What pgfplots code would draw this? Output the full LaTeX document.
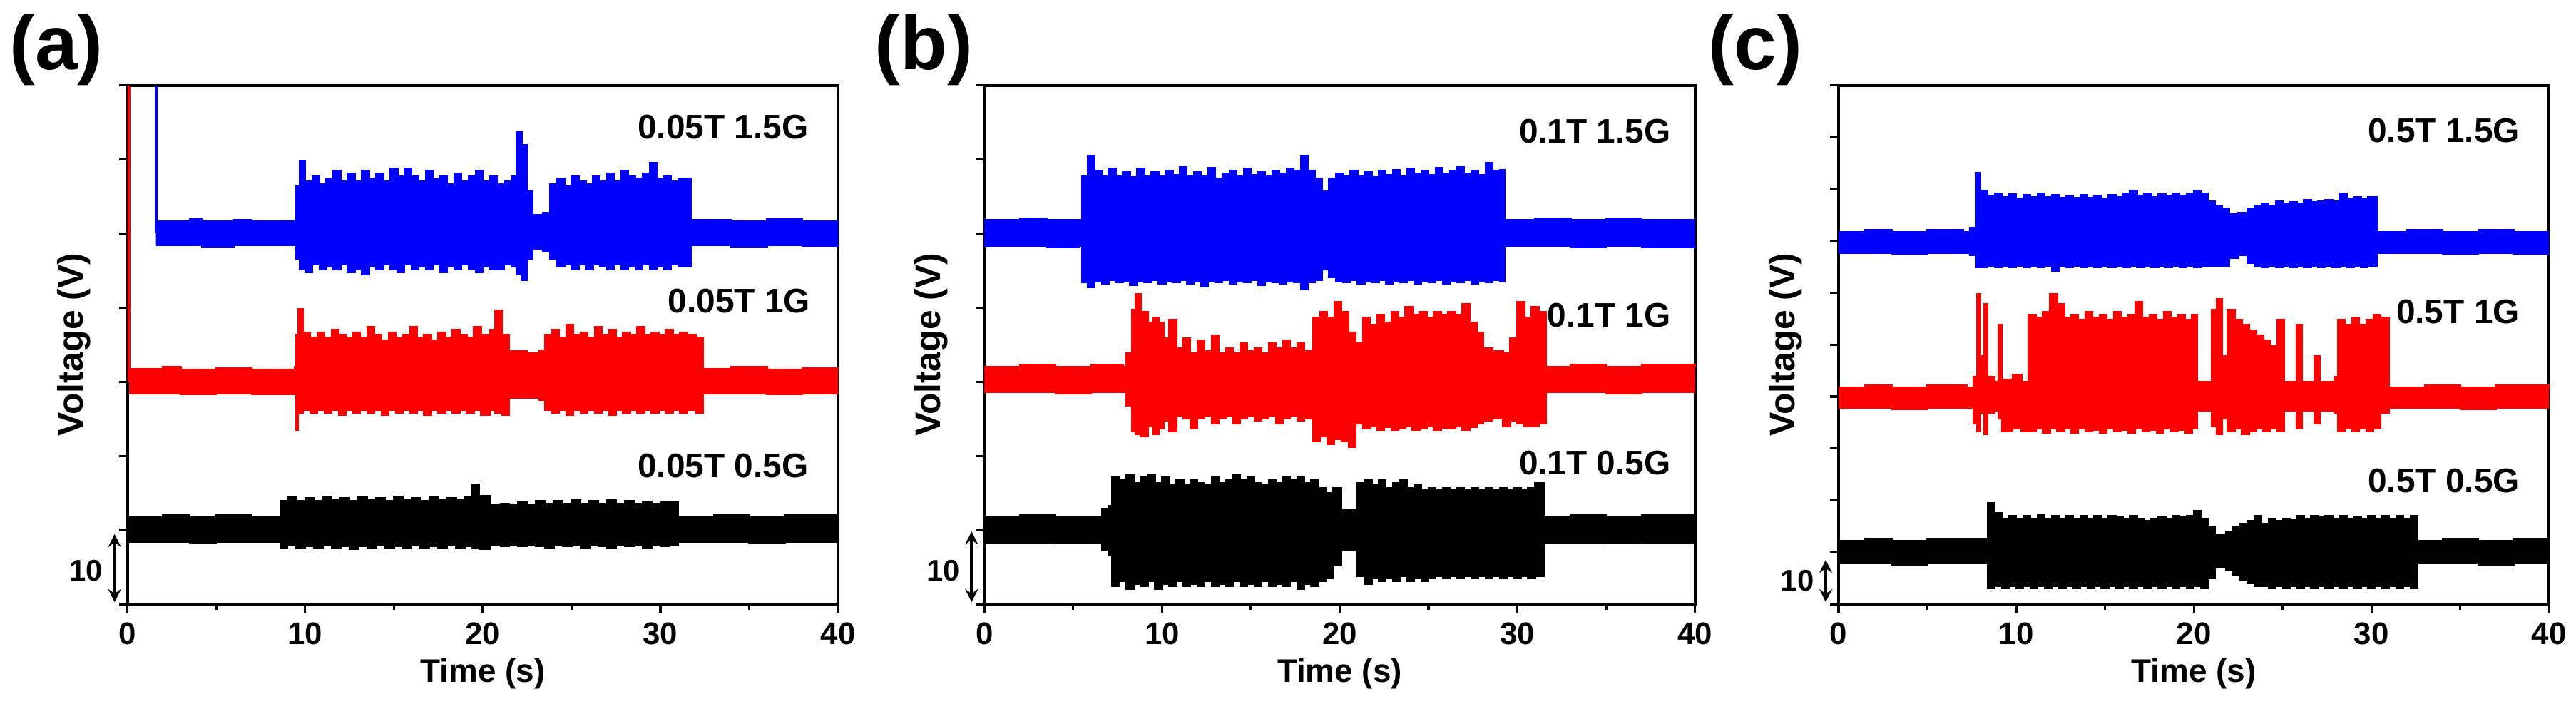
\documentclass[border=0pt]{standalone}
\usepackage{fontspec}
\setmainfont{Liberation Sans}
\usepackage{pgfplots}
\pgfplotsset{compat=1.18}
\usepackage{pgfplotstable}
\usepgfplotslibrary{fillbetween}

% ---------- panel (a) ----------
\pgfplotstableread{
t hi lo
1.6 2.3 -2.3
3.5 2.7 -2.3
4.2 2.3 -2.6
6 2.6 -2.3
7 2.3 -2.3
9.4 2.3 -2.3
9.5 9 -5
9.7 14 -7
10 10 -7.5
10.4 11 -6
10.8 9.5 -7
11.2 10.5 -6.5
11.6 12 -7
12 10 -6
12.4 11.5 -7.5
12.8 10 -7
13.2 12 -8
13.6 10.5 -6.5
14 11.5 -7
14.4 10 -6
14.8 12.5 -7
15.2 11 -7.5
15.6 12.5 -6
16 11 -7
16.4 10 -6.5
16.8 12 -7
17.2 10.5 -6
17.6 11 -7.5
18 9.5 -6.5
18.4 11.5 -7
18.8 10 -6
19.2 11 -7
19.6 12 -7.5
20 10 -6.5
20.4 11 -7
20.8 9.5 -7
21.2 10 -6
21.6 11 -6.5
21.9 19.5 -8
22.2 17 -9
22.5 8 -5
22.8 3.5 -3
23.4 4 -3.5
23.8 9.5 -5
24.2 10.5 -6.5
24.6 9 -6
25 11 -7
25.4 10 -6
25.8 9.5 -7
26.2 11 -6
26.6 10 -6.5
27 11.5 -7
27.4 10 -6
27.8 12 -7
28.2 11 -6.5
28.6 10.5 -7
29 11.5 -6
29.4 13.5 -7
29.8 10.5 -6.5
30.2 11 -7
30.6 10 -6
31 10.5 -6.5
31.7 2.5 -2.3
34 2.3 -2.6
36 2.7 -2.3
38 2.3 -2.5
40 2.5 -2.3
}\ablue
\pgfplotstableread{
t hi lo
0.1 2.4 -2.3
2 2.8 -2.3
3 2.3 -2.5
5 2.6 -2.3
7 2.3 -2.5
9.4 2.8 -2.3
9.5 9 -9.3
9.6 14 -6
9.9 9.5 -5.5
10.3 8.5 -6
10.7 9.5 -5.5
11.1 8.5 -6
11.5 10 -5.5
11.9 9 -6.5
12.3 8.5 -5.5
12.7 9.5 -6
13.1 8.5 -5.5
13.5 10.5 -6
13.9 9 -5.5
14.3 8 -6.5
14.7 9.5 -5.5
15.1 8.5 -6
15.5 9 -5.5
15.9 10.5 -6
16.3 8.5 -5.5
16.7 9 -6.5
17.1 8 -5.5
17.5 9.5 -6
17.9 8.5 -5.5
18.3 10 -6
18.7 9 -5.5
19.1 8.5 -6
19.5 10.5 -5.5
19.9 9 -6.5
20.4 10 -5.5
20.7 13.7 -6
21.1 9 -6.5
21.5 5.9 -3.2
22.5 5.5 -3.2
23.2 6 -3.5
23.5 9 -5.5
23.9 10 -6
24.3 8.5 -5.5
24.7 11 -6.5
25.1 9 -5.5
25.5 9.5 -6
25.9 8.5 -5.5
26.3 10.5 -6
26.7 9 -5.5
27.1 10 -6.5
27.5 8.5 -5.5
27.9 9.5 -6
28.3 9 -5.5
28.7 10.5 -6
29.1 9 -5.5
29.5 9.5 -6
29.9 9 -5.5
30.3 10 -6
30.7 9 -5.5
31.1 9.5 -6
31.5 9 -5.5
32.0 8.5 -6
32.4 2.5 -2.3
34 2.8 -2.3
36 2.3 -2.5
38 2.6 -2.3
40 2.3 -2.4
}\ared
\pgfplotstableread{
t hi lo
0 2.4 -2.4
2 2.8 -2.4
3.5 2.4 -2.6
5 2.8 -2.4
7 2.4 -2.4
8.5 2.4 -2.4
8.6 5.5 -3.5
9 6.2 -3
9.5 5.5 -3.5
10 6 -3.2
10.5 5.5 -3.5
11 6.3 -3
11.5 5.6 -3.5
12 6 -3.2
12.5 5.5 -3.8
13 6.2 -3.2
13.5 5.6 -3.5
14 6 -3
14.5 5.5 -3.5
15 6.3 -3.2
15.5 5.6 -3.5
16 6 -3
16.5 5.5 -3.5
17 6.2 -3.2
17.5 5.8 -3.5
18 6 -3
18.5 5.6 -3.5
19 6.2 -3.2
19.4 8.7 -3.5
19.8 6.5 -3.8
20.4 4.8 -3
21 5 -3.2
21.5 4.8 -3
22 5.2 -3.2
22.5 4.8 -3
23 5.5 -3.2
23.5 5 -3.5
24 5.5 -3
24.5 5 -3.2
25 5.6 -3
25.5 5 -3.5
26 5.5 -3
26.5 5 -3.2
27 5.6 -3.5
27.5 5 -3
28 5.5 -3.2
28.5 5 -3
29 5.4 -3.5
29.5 5 -3
30 5.2 -3.2
30.5 5.4 -3
31 2.4 -2.4
33 2.8 -2.4
35 2.4 -2.6
37 2.8 -2.4
40 2.4 -2.4
}\ablack

% ---------- panel (b) ----------
\pgfplotstableread{
t hi lo
0 2.5 -2.5
2 2.9 -2.5
3.5 2.5 -2.7
5.3 2.5 -2.5
5.5 11 -9.5
5.8 15 -10.5
6.2 12 -9.3
6.6 11 -9.8
7 12.5 -9
7.4 11 -9.5
7.8 11.8 -9.3
8.2 10.8 -10
8.6 12.5 -9.3
9 11 -9.5
9.4 11.8 -9
9.8 11 -9.8
10.2 12 -9.3
10.6 11.2 -9.5
11 12.8 -9
11.4 11 -9.8
11.8 11.8 -9.3
12.2 11 -10.3
12.6 12.6 -9.3
13 10.5 -9.5
13.4 11.5 -9
13.8 12 -9.8
14.2 11 -9.3
14.6 12.5 -9.5
15 11.2 -9
15.4 11.8 -10
15.8 11 -9.3
16.2 12 -9.5
16.6 11.5 -9.8
17 12.4 -9.3
17.4 12 -9.5
17.8 15 -10.8
18.2 12 -9.5
18.6 10.5 -9
19 8 -7
19.4 10.5 -8.5
19.8 11.5 -9.3
20.2 11 -9.5
20.6 12 -9
21 11 -9.8
21.4 11.8 -9.3
21.8 10.8 -9.5
22.2 12 -9
22.6 11.2 -9.8
23 12.2 -9.3
23.4 11 -9.5
23.8 12.5 -9
24.2 11.5 -9.8
24.6 12 -9.3
25 11.2 -9.5
25.4 12.6 -9
25.8 11.5 -9.8
26.2 12 -9.3
26.6 12.8 -9.5
27 11.5 -9
27.4 12 -9.8
27.8 11.2 -9.3
28.2 13.5 -9.5
28.6 12 -9
29 12.2 -9.3
29.3 2.5 -2.5
31 2.9 -2.5
33 2.5 -2.7
35 2.9 -2.5
37 2.5 -2.7
40 2.5 -2.5
}\bblue
\pgfplotstableread{
t hi lo
0 2.5 -2.5
2 2.9 -2.5
4 2.5 -2.7
6 2.9 -2.5
7.8 2.5 -2.5
8 5 -5
8.3 13.5 -10
8.5 16.5 -10.5
8.8 13 -11
9.2 11 -9
9.5 12 -10.5
9.8 11 -9.5
10.1 8 -8
10.4 11.5 -10
10.8 6 -7
11.2 8 -7.5
11.6 5 -9.5
12 7.5 -7.5
12.4 5.5 -7
12.8 8.5 -8.5
13.2 5 -7.5
13.6 6 -7
14 5 -8.5
14.4 7 -7.5
14.8 5.5 -7
15.2 6 -8
15.6 5 -7.5
16 7 -7
16.4 6 -8.5
16.8 7.5 -7.5
17.2 6 -7
17.6 7 -8
18 5.5 -7.5
18.5 12 -12
18.9 13 -11
19.3 12 -12.5
19.7 15 -11.5
20.1 13 -12
20.5 9 -13
20.9 7 -8.5
21.3 12 -9.5
21.7 10.5 -9
22.1 12.5 -9.8
22.5 11 -9.2
22.9 13 -9.8
23.3 12 -9.5
23.7 14 -9
24.1 12.5 -9.8
24.5 13 -9.5
24.9 12 -9
25.3 13 -9.8
25.7 12.5 -9.3
26.1 13 -9.5
26.5 12.5 -9
26.9 14.5 -9.8
27.3 11 -9.2
27.7 9 -8.5
28.1 6 -8
28.6 5.5 -7.5
29.2 5 -9
29.6 8 -8
30 15 -8.5
30.4 12 -9
30.8 14 -9
31.2 13 -8.5
31.6 2.5 -2.5
33 2.9 -2.5
35 2.5 -2.7
37 2.9 -2.5
40 2.5 -2.5
}\bred
\pgfplotstableread{
t hi lo
0 2.5 -2.5
2 2.9 -2.5
4 2.5 -2.7
6.5 2.5 -2.5
6.6 4 -4
7 4.5 -5
7.2 10 -11
7.6 9.5 -10
8 10.5 -11.5
8.4 9 -10.5
8.8 10 -11
9.2 10.5 -10
9.6 9 -11.5
10 10 -10.5
10.4 8.5 -11
10.8 9.5 -10
11.2 8.5 -11
11.6 9.5 -10.5
12 9 -11
12.4 8.5 -10
12.8 10 -11
13.2 9 -10.5
13.6 9.5 -11
14 10.5 -10
14.4 9.5 -11
14.8 10 -10.5
15.2 9 -11
15.6 8.5 -10
16 9.5 -11
16.4 9 -10.5
16.8 10 -11
17.2 9.5 -10
17.6 10 -11.5
18 9 -10.5
18.4 9.5 -11
18.8 8 -10
19.2 7 -9.5
19.6 8 -7
20.1 3.7 -4
21 9 -9
21.4 9.5 -10.5
21.8 8.5 -9.5
22.2 9.5 -10
22.6 8 -9.5
23 9 -10
23.4 9.5 -9
23.8 8 -10
24.2 8.5 -9.5
24.6 7.5 -10
25 8 -9.5
25.4 7.5 -9
25.8 8 -9.5
26.2 7.5 -9
26.6 8 -9.5
27 7.5 -9
27.4 8 -9.5
27.8 7.5 -9
28.2 8 -9.5
28.6 7.5 -9
29 8 -9.5
29.4 7.5 -9
29.8 8 -9.5
30.2 7.5 -9
30.6 8 -9.5
31 9 -9
31.5 2.5 -2.5
33 2.9 -2.5
35 2.5 -2.7
37 2.9 -2.5
40 2.5 -2.5
}\bblack

% ---------- panel (c) ----------
\pgfplotstableread{
t hi lo
0 2 -2
1.5 2.4 -2
3 2 -2.2
5 2.4 -2
7 2 -2
7.4 2.8 -2.5
7.7 13.4 -4.8
8 10 -4.8
8.4 9 -4.5
8.8 9.5 -4.8
9.2 8.8 -4.5
9.6 9.3 -4.8
10 8.5 -4.5
10.4 9.2 -4.8
10.8 8.8 -4.5
11.2 9.5 -4.8
11.6 8.8 -4.5
12 9.2 -5.5
12.4 8.6 -4.5
12.8 9 -4.8
13.2 8.6 -4.5
13.6 9.2 -4.8
14 8.6 -4.5
14.4 9 -4.8
14.8 8.5 -4.5
15.2 9.2 -4.8
15.6 8.8 -4.5
16 9.4 -4.8
16.4 10 -4.5
16.8 9 -4.8
17.2 9.5 -4.5
17.6 8.8 -4.8
18 9.3 -4.5
18.4 9 -4.8
18.8 9.5 -4.5
19.2 9 -4.8
19.6 9.5 -4.5
20 10 -4.8
20.4 9.5 -4.5
20.8 8 -4.5
21.2 7 -4.5
21.6 6.5 -4.5
22 5.5 -3
22.5 5.8 -2.5
23 6.5 -4
23.4 7 -4.5
23.8 7.5 -4.8
24.2 7 -4.5
24.6 8 -4.8
25 7.5 -4.5
25.4 7.8 -4.8
25.8 7.5 -4.5
26.2 8.2 -4.8
26.6 7.8 -4.5
27 8 -4.8
27.4 8.2 -4.5
27.8 8 -4.8
28.2 9.5 -4.5
28.6 8.5 -4.8
29 8.8 -4.5
29.4 8.5 -4.8
29.8 8.8 -4.5
30.3 2 -2
32 2.4 -2
34 2 -2.2
36 2.4 -2
38 2 -2.2
40 2 -2
}\cblue
\pgfplotstableread{
t hi lo
0 2 -2
1.5 2.4 -2
3 2 -2.2
5 2.4 -2
7.2 2 -2
7.6 4 -5
7.8 20 -6.5
8 8 -3
8.2 18 -7
8.4 4 -3
8.8 3 -2.5
9 14 -4
9.2 3.5 -6.5
9.8 4.5 -6
10.3 3 -6.5
10.7 16 -6.5
11.1 15.5 -6
11.5 16.5 -6.8
11.9 20 -6
12.3 18 -6.5
12.7 15.5 -6
13.1 16 -6.8
13.5 15 -6
13.9 16.5 -6.5
14.3 15.5 -6.2
14.7 16 -6.8
15.1 15 -6
15.5 16.5 -6.5
15.9 15.5 -6.2
16.3 16 -6.8
16.7 18.5 -6
17.1 15.5 -6.5
17.5 16 -6.2
17.9 15 -6.8
18.3 16.5 -6
18.7 15.5 -6.5
19.1 16 -6.2
19.5 15 -6.8
19.9 16 -6
20.2 3 -2.5
20.6 3 -2.5
21 17 -5.5
21.3 19 -7
21.6 8 -4
21.9 17 -6.5
22.3 15 -6
22.7 14 -7
23.1 13 -6.5
23.5 12 -6
23.9 11 -6.5
24.3 10 -6
24.7 15 -6.5
25.1 3 -2.5
25.8 14 -6
26.1 3 -2.5
26.8 8 -5
27.1 3 -2.5
27.9 4 -3
28.1 15 -6.5
28.5 14 -6
28.9 15.5 -6.5
29.3 14 -6
29.7 15 -6.5
30.1 16 -6
30.5 15.5 -3
31 2 -2
33 2.4 -2
35 2 -2.2
37 2.4 -2
40 2 -2
}\cred
\pgfplotstableread{
t hi lo
0 2.2 -2.2
1.5 2.6 -2.2
3 2.2 -2.4
5 2.6 -2.2
8.3 2.2 -2.2
8.4 9.5 -7
8.8 7.5 -6.5
9.2 6.5 -7
9.6 7 -6.5
10 6.5 -7
10.4 7 -6.5
10.8 6.5 -7
11.2 7.2 -6.5
11.6 6.5 -7
12 7 -6.5
12.4 6.5 -7
12.8 7 -6.5
13.2 6.5 -7
13.6 7 -6.5
14 6.5 -7
14.4 7 -6.5
14.8 6.5 -7
15.2 7 -6.5
15.6 6.8 -7
16 6.5 -6.5
16.4 7 -7
16.8 6.5 -6.5
17.2 6 -7
17.6 6.5 -6.5
18 6.8 -7
18.4 6.5 -6.5
18.8 7 -7
19.2 6.8 -6.5
19.6 7 -7
20 8 -6.5
20.4 6.5 -7
20.8 5 -5
21.2 3.5 -3
21.8 4 -3.5
22.2 5 -4.5
22.6 5.5 -5.5
23 6 -6
23.4 7 -6.5
23.8 5.5 -6.5
24.2 6.5 -7
24.6 6 -6.5
25 6.5 -7
25.4 6.2 -6.5
25.8 7 -7
26.2 6.5 -6.5
26.6 7 -7
27 6.8 -6.5
27.4 7 -7
27.8 6.5 -6.5
28.2 7 -7
28.6 6.5 -6.5
29 6.8 -7
29.4 6.5 -6.5
29.8 7 -7
30.2 6.5 -6.5
30.6 7 -7
31 6.5 -6.5
31.4 7 -7
31.8 6.5 -6.5
32.2 7 -7
32.6 2.2 -2.2
34 2.6 -2.2
36 2.2 -2.4
38 2.6 -2.2
40 2.2 -2.2
}\cblack

\definecolor{sigblue}{RGB}{0,0,255}
\definecolor{sigred}{RGB}{255,0,0}

% #1 table, #2 colour, #3 baseline, #4 unique name
\newcommand\band[4]{%
  \addplot[const plot, draw=#2, line width=0.6pt, name path=#4u] table[x=t, y expr=\thisrow{hi}+#3] {#1};
  \addplot[const plot, draw=#2, line width=0.6pt, name path=#4l] table[x=t, y expr=\thisrow{lo}+#3] {#1};
  \addplot[fill=#2, draw=none] fill between[of=#4u and #4l];
}

\tikzset{
  lab/.style={font=\bfseries\fontsize{12}{14}\selectfont, anchor=east},
  ten/.style={font=\bfseries\fontsize{10.5}{12}\selectfont},
}
\pgfplotsset{
  panel/.style={
    scale only axis, width=250pt, height=182.5pt,
    xmin=0, xmax=40, ymin=0, ymax=100,
    xtick={0,10,20,30,40}, minor x tick num=1,
    tick align=outside, xtick pos=bottom, ytick pos=left,
    yticklabels={},
    major tick length=3pt, minor tick length=2pt,
    axis line style={line width=1pt}, every tick/.style={line width=0.8pt, black},
    /pgf/number format/assume math mode=true,
    tick label style={font=\bfseries\fontsize{11}{12}\selectfont},
    xlabel={Time (s)}, ylabel={Voltage (V)},
    xlabel style={font=\bfseries\fontsize{11.5}{13}\selectfont, at={(axis description cs:0.5,-0.135)}, anchor=center},
    ylabel style={font=\bfseries\fontsize{12.5}{14}\selectfont, at={(axis description cs:-0.075,0.5)}, anchor=center},
    clip=false, anchor=south west,
  },
}

\begin{document}
\begin{tikzpicture}[x=1pt,y=1pt]
\path (0,0) rectangle (903,247.5);

% (a)
\begin{axis}[panel, at={(44.75pt,35pt)}, ytick={0,14.2857,28.5714,42.8571,57.1429,71.4286,85.7143,100}]
\band{\ablack}{black}{14.4}{ak}
\band{\ared}{sigred}{42.9}{ar}
\band{\ablue}{sigblue}{71.5}{ab}
\addplot[sigred, line width=1pt] coordinates {(0.1,42.9) (0.1,100)};
\addplot[sigblue, line width=1pt] coordinates {(1.6,71.5) (1.6,100)};
\node[lab] at (axis cs:38.9,92) {0.05T 1.5G};
\node[lab] at (axis cs:39,58.4) {0.05T 1G};
\node[lab] at (axis cs:38.9,26.6) {0.05T 0.5G};
\draw[<->, >=stealth, line width=1pt] (rel axis cs:-0.018,0.135) -- (rel axis cs:-0.018,0.004);
\node[ten] at (rel axis cs:-0.058,0.065) {10};
\end{axis}

% (b)
\begin{axis}[panel, at={(346.25pt,35pt)}, ytick={0,14.2857,28.5714,42.8571,57.1429,71.4286,85.7143,100}]
\band{\bblack}{black}{14.4}{bk}
\band{\bred}{sigred}{43.3}{br}
\band{\bblue}{sigblue}{71.5}{bb}
\node[lab] at (axis cs:39.2,91.1) {0.1T 1.5G};
\node[lab] at (axis cs:39.2,55.7) {0.1T 1G};
\node[lab] at (axis cs:39.2,27.2) {0.1T 0.5G};
\draw[<->, >=stealth, line width=1pt] (rel axis cs:-0.018,0.14) -- (rel axis cs:-0.018,0.004);
\node[ten] at (rel axis cs:-0.058,0.065) {10};
\end{axis}

% (c)
\begin{axis}[panel, at={(646.75pt,35pt)}, ytick={0,10,...,100}]
\band{\cblack}{black}{10}{ck}
\band{\cred}{sigred}{39.8}{cr}
\band{\cblue}{sigblue}{69.7}{cb}
\node[lab] at (axis cs:38.9,91.3) {0.5T 1.5G};
\node[lab] at (axis cs:38.9,56.3) {0.5T 1G};
\node[lab] at (axis cs:38.9,23.8) {0.5T 0.5G};
\draw[<->, >=stealth, line width=1pt] (rel axis cs:-0.018,0.085) -- (rel axis cs:-0.018,0.004);
\node[ten] at (rel axis cs:-0.058,0.045) {10};
\end{axis}

\node[font=\bfseries\fontsize{27}{30}\selectfont] at (19.75,230) {(a)};
\node[font=\bfseries\fontsize{27}{30}\selectfont] at (325,230) {(b)};
\node[font=\bfseries\fontsize{27}{30}\selectfont] at (617.5,230) {(c)};
\end{tikzpicture}
\end{document}
